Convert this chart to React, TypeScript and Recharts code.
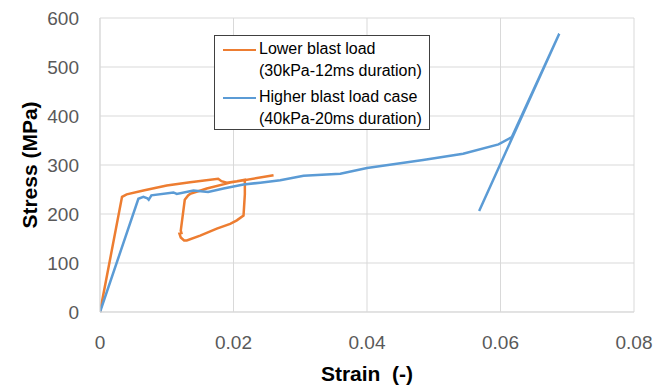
import React from "react";
import { LineChart, Line, XAxis, YAxis, CartesianGrid, Label } from "recharts";

const xTicks = [0, 0.02, 0.04, 0.06, 0.08];
const yTicks = [0, 100, 200, 300, 400, 500, 600];

const seriesNames = [
  ["Lower blast load", "(30kPa-12ms duration)"],
  ["Higher blast load case", "(40kPa-20ms duration)"],
];
const seriesColors = ["#ED7D31", "#5B9BD5"];

const lowerStrain = [
  0, 0.0033, 0.004, 0.0065, 0.01, 0.0135, 0.0177, 0.0182, 0.019, 0.0205, 0.0217,
  0.0217, 0.0215, 0.0205, 0.0195, 0.0175, 0.015, 0.013, 0.0126, 0.0121, 0.0119,
  0.0122, 0.0121, 0.0127, 0.0132, 0.0135, 0.016, 0.0195, 0.026,
];
const lowerStress = [
  0, 235, 240, 248, 258, 265, 272, 267, 264, 267, 270,
  240, 197, 187, 180, 170, 156, 146, 146, 152, 160,
  161, 166, 229, 238, 241, 252, 264, 279,
];

const higherStrain = [
  0, 0.00575, 0.0065, 0.0071, 0.0073, 0.0077, 0.011, 0.0115, 0.014, 0.0162, 0.0185,
  0.0215, 0.024, 0.027, 0.0305, 0.036, 0.04, 0.0484, 0.0544, 0.0597, 0.0617, 0.0688,
  0.0568,
];
const higherStress = [
  0, 231, 235, 232, 229, 238, 244, 241, 248, 245, 252,
  260, 264, 269, 278, 282, 294, 310, 323, 342, 357, 568,
  206,
];

const lowerData = lowerStrain.map((x, i) => ({ x, y: lowerStress[i] }));
const higherData = higherStrain.map((x, i) => ({ x, y: higherStress[i] }));

const FONT = "'Liberation Sans', Arial, sans-serif";

function LegendBox() {
  return (
    <div
      style={{
        position: "absolute",
        left: 214,
        top: 35,
        width: 214,
        height: 93,
        border: "1px solid #404040",
        background: "#fff",
        fontFamily: FONT,
        fontSize: 16,
        color: "#000",
      }}
    >
      {seriesNames.map((lines, si) => (
        <div key={si} style={{ position: "absolute", left: 0, top: si * 48 + 2 }}>
          <div
            style={{
              position: "absolute",
              left: 8,
              top: 11,
              width: 33,
              height: 0,
              borderTop: `2.5px solid ${seriesColors[si]}`,
            }}
          />
          {lines.map((t, li) => (
            <div
              key={li}
              style={{
                position: "absolute",
                left: 44,
                top: li * 22,
                whiteSpace: "nowrap",
                lineHeight: "22px",
              }}
            >
              {t}
            </div>
          ))}
        </div>
      ))}
    </div>
  );
}

export default function App() {
  return (
    <div
      style={{
        position: "relative",
        width: 655,
        height: 388,
        overflow: "hidden",
        background: "#fff",
      }}
    >
      <style>{`html,body{margin:0;padding:0;overflow:hidden;}`}</style>
      <LineChart
        width={655}
        height={388}
        margin={{ top: 18, right: 21, bottom: 0, left: 0 }}
      >
        <CartesianGrid stroke="#d9d9d9" strokeWidth={1} />
        <XAxis
          type="number"
          dataKey="x"
          domain={[0, 0.08]}
          ticks={xTicks}
          allowDataOverflow
          height={76}
          tickLine={false}
          tickSize={0}
          tickMargin={24}
          axisLine={{ stroke: "#d9d9d9" }}
          tick={{ fill: "#595959", fontSize: 19, fontFamily: FONT }}
          tickFormatter={(v: number) => (v === 0 ? "0" : String(v))}
        >
          <Label
            value={"Strain\u00a0 (-)"}
            position="insideBottom"
            offset={7}
            style={{ fontFamily: FONT, fontSize: 21, fontWeight: "bold", fill: "#000" }}
          />
        </XAxis>
        <YAxis
          type="number"
          dataKey="y"
          domain={[0, 600]}
          ticks={yTicks}
          width={100}
          tickLine={false}
          tickSize={0}
          tickMargin={21}
          axisLine={{ stroke: "#d9d9d9" }}
          tick={{ fill: "#595959", fontSize: 19, fontFamily: FONT }}
        >
          <Label
            value="Stress (MPa)"
            angle={-90}
            position="insideLeft"
            offset={30}
            style={{
              fontFamily: FONT,
              fontSize: 21,
              fontWeight: "bold",
              fill: "#000",
              textAnchor: "middle",
            }}
          />
        </YAxis>
        <Line
          data={lowerData}
          dataKey="y"
          type="linear"
          stroke={seriesColors[0]}
          strokeWidth={2.5}
          dot={false}
          isAnimationActive={false}
        />
        <Line
          data={higherData}
          dataKey="y"
          type="linear"
          stroke={seriesColors[1]}
          strokeWidth={2.5}
          dot={false}
          isAnimationActive={false}
        />
      </LineChart>
      <LegendBox />
    </div>
  );
}
